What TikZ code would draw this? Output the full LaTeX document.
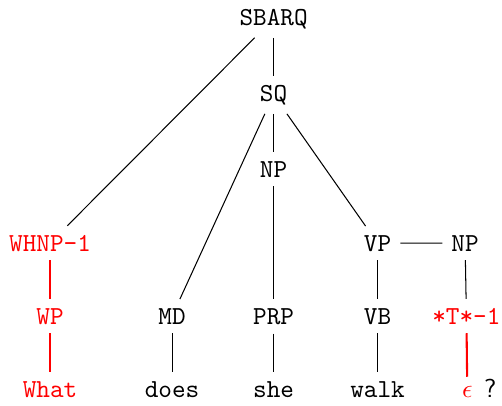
\documentclass[tikz,border=0pt]{standalone}
\usepackage{amsmath, amssymb}
\usepackage{tikz}
\begin{document}
\begin{tikzpicture}[font=\ttfamily,
    cat/.style={anchor=base},
    coindexed/.style={anchor=base, red},
    traceline/.style={red, thick}]
  \useasboundingbox (0, 0) rectangle (6.80, -5.49);
  % phrase nodes
  \node[cat] (sbarq) at (3.706, -0.339) {SBARQ};
  \node[cat] (sq) at (3.706, -1.369) {SQ};
  \node[cat] (np) at (3.706, -2.398) {NP};
  \node[coindexed] (whnp) at (0.678, -3.401) {WHNP-1};
  \node[cat] (vp) at (5.115, -3.401) {VP};
  \node[cat] (npobj) at (6.300, -3.401) {NP};
  % preterminals
  \node[coindexed] (wp) at (0.678, -4.390) {WP};
  \node[cat] (md) at (2.331, -4.390) {MD};
  \node[cat] (prp) at (3.706, -4.390) {PRP};
  \node[cat] (vb) at (5.115, -4.390) {VB};
  \node[coindexed] (trace) at (6.318, -4.390) {*T*-1};
  % words
  \node[coindexed] (what) at (0.678, -5.379) {What};
  \node[cat] (does) at (2.331, -5.379) {does};
  \node[cat] (she) at (3.706, -5.379) {she};
  \node[cat] (walk) at (5.115, -5.379) {walk};
  \node[coindexed] (eps) at (6.330, -5.379) {$\epsilon$};
  \node[cat] (qmark) at (6.640, -5.379) {\textsf{?}};
  % branches
  \draw (sbarq) -- (whnp);
  \draw (sbarq) -- (sq);
  \draw (sq) -- (md);
  \draw (sq) -- (np);
  \draw (sq) -- (vp);
  \draw (vp) -- (npobj);
  \draw (np) -- (prp);
  \draw (vp) -- (vb);
  \draw (npobj) -- (trace);
  \draw (md) -- (does);
  \draw (prp) -- (she);
  \draw (vb) -- (walk);
  % moved constituent and its trace
  \draw[traceline] (whnp) -- (wp);
  \draw[traceline] (wp) -- (what);
  \draw[traceline] (trace) -- (eps);
\end{tikzpicture}
\end{document}
